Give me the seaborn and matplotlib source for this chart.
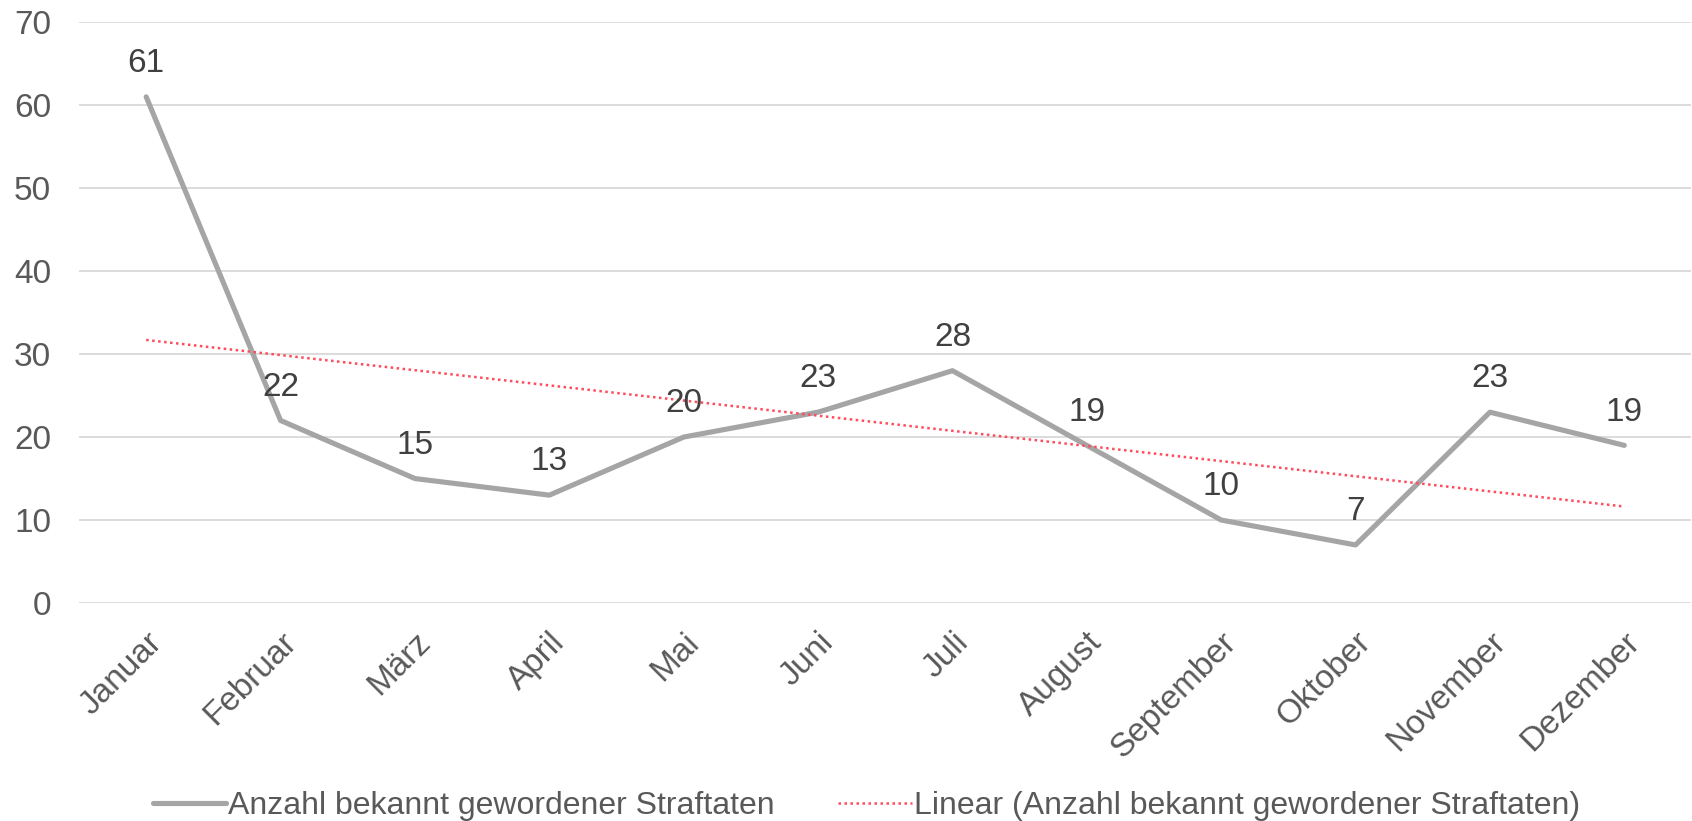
import numpy as np
import pandas as pd
import matplotlib
matplotlib.use("Agg")
import matplotlib.pyplot as plt
import seaborn as sns

# ------------------------------------------------------------
# Data
# ------------------------------------------------------------
monate = ["Januar", "Februar", "März", "April", "Mai", "Juni", "Juli",
          "August", "September", "Oktober", "November", "Dezember"]
straftaten = [61, 22, 15, 13, 20, 23, 28, 19, 10, 7, 23, 19]

serie_name = "Anzahl bekannt gewordener Straftaten"
trend_name = "Linear (Anzahl bekannt gewordener Straftaten)"

df = pd.DataFrame({"monat": monate, "wert": straftaten})
df["pos"] = np.arange(len(df))

# linear trend (least squares, like Excel)
k, d = np.polyfit(df["pos"] + 1, df["wert"], 1)
df["trend"] = k * (df["pos"] + 1) + d

# ------------------------------------------------------------
# Style
# ------------------------------------------------------------
sns.set_style("white")
plt.rcParams["font.family"] = ["Liberation Sans", "DejaVu Sans"]
text_col = "#595959"
grid_col = "#D9D9D9"

fig = plt.figure(figsize=(16.92, 8.21), dpi=100)
ax = fig.add_axes([0.0467, 0.2655, 0.953, 0.7075])

sns.lineplot(data=df, x="pos", y="wert", ax=ax, color="#A5A5A5",
             linewidth=3.7, label=serie_name, solid_capstyle="round")
sns.lineplot(data=df, x="pos", y="trend", ax=ax, color="#FF4B5C",
             linewidth=1.8, linestyle=(0, (1, 1.4)), label=trend_name)

# data labels
for _, r in df.iterrows():
    ax.annotate(str(r["wert"]), (r["pos"], r["wert"]), xytext=(0, 24),
                textcoords="offset points", ha="center", va="center",
                fontsize=24, color="#404040")

# ------------------------------------------------------------
# Axes
# ------------------------------------------------------------
ax.set_xlim(-0.5, len(df) - 0.5)
ax.set_ylim(0, 70)
ax.set_yticks(range(0, 71, 10))
ax.set_xticks(df["pos"])
ax.set_xticklabels(monate, rotation=45, ha="right", rotation_mode="anchor")
ax.tick_params(axis="both", length=0, labelsize=24, labelcolor=text_col)
ax.tick_params(axis="y", pad=20)
ax.tick_params(axis="x", pad=17)
ax.grid(axis="y", color=grid_col, linewidth=1.3)
ax.set_axisbelow(True)
for s in ax.spines.values():
    s.set_visible(False)
ax.set_xlabel("")
ax.set_ylabel("")

handles, labels = ax.get_legend_handles_labels()
ax.get_legend().remove()
fig.legend(handles, labels, loc="center", bbox_to_anchor=(0.512, 0.018),
           ncol=2, frameon=False, fontsize=23, labelcolor=text_col,
           handlelength=2.3, handletextpad=0.05, columnspacing=2.0)

fig.savefig("out.png", dpi=100)
